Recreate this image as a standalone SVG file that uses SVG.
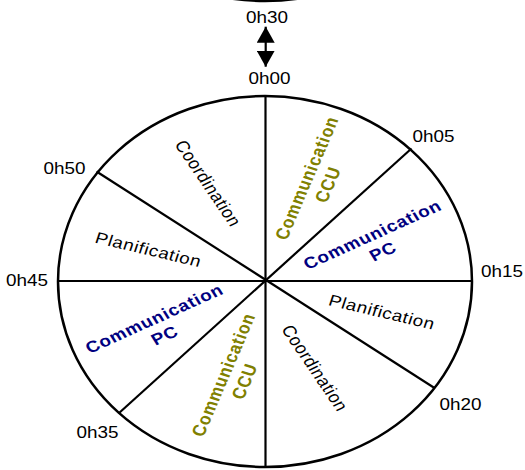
<svg xmlns="http://www.w3.org/2000/svg" width="525" height="470" viewBox="0 0 525 470">
  <style>
    .outline { fill: #ffffff; stroke: #000000; stroke-width: 2.5; }
    .divider { stroke: #000000; stroke-width: 2.2; fill: none; }
    .tick { font-family: "Liberation Sans", Arial, sans-serif; font-size: 16px; fill: #000000; }
    .task { font-family: "Liberation Sans", Arial, sans-serif; font-size: 16px; fill: #000000; text-anchor: middle; letter-spacing: 0.5px; }
    .comm { font-family: "Liberation Sans", Arial, sans-serif; font-size: 16px; font-weight: bold; text-anchor: middle; letter-spacing: 0.7px; }
    .ccu { fill: #808000; }
    .pc { fill: #000080; }
  </style>
  <defs>
    <marker id="head" viewBox="0 0 16 18" refX="16" refY="9" markerWidth="16" markerHeight="18" markerUnits="userSpaceOnUse" orient="auto-start-reverse">
      <path d="M0,0 L16,9 L0,18 z" fill="#000000"/>
    </marker>
  </defs>

  <!-- previous cycle, cut off at the top edge -->
  <ellipse class="outline" cx="265" cy="-184.5" rx="207" ry="185.5"/>

  <!-- cycle wheel -->
  <g id="wheel">
    <ellipse class="outline" cx="265" cy="281.5" rx="207" ry="185.5"/>
  </g>

  <!-- sector dividers and the wrap-around arrow -->
  <g id="connectors">
    <line class="divider" x1="265.5" y1="96" x2="265.5" y2="467"/>
    <line class="divider" x1="58" y1="281" x2="472" y2="281"/>
    <line class="divider" x1="411.5" y1="148.5" x2="118.5" y2="413.5"/>
    <line class="divider" x1="96.5" y1="171.5" x2="434.5" y2="388"/>
    <line class="divider" x1="265.7" y1="26.7" x2="265.7" y2="66.7" stroke-width="2" marker-start="url(#head)" marker-end="url(#head)"/>
  </g>

  <!-- time marks -->
  <g id="ticks">
    <text class="tick" transform="translate(246,23.3) scale(1.18,1)">0h30</text>
    <text class="tick" transform="translate(248.5,84) scale(1.18,1)">0h00</text>
    <text class="tick" transform="translate(412.5,141.5) scale(1.18,1)">0h05</text>
    <text class="tick" transform="translate(481,276.7) scale(1.18,1)">0h15</text>
    <text class="tick" transform="translate(439.5,410) scale(1.18,1)">0h20</text>
    <text class="tick" transform="translate(76.5,437.7) scale(1.18,1)">0h35</text>
    <text class="tick" transform="translate(6,286) scale(1.18,1)">0h45</text>
    <text class="tick" transform="translate(43.5,174.3) scale(1.18,1)">0h50</text>
  </g>

  <!-- sectors -->
  <g id="comm-ccu-1" transform="translate(317.3,181.3) scale(1.18,1) rotate(-70)">
    <text class="comm ccu" x="0" y="-4">Communication</text>
    <text class="comm ccu" x="0" y="15">CCU</text>
  </g>
  <g id="comm-pc-1" transform="translate(377.7,243) scale(1.18,1) rotate(-28)">
    <text class="comm pc" x="0" y="-4">Communication</text>
    <text class="comm pc" x="0" y="15">PC</text>
  </g>
  <g id="planif-1" transform="translate(382,312) scale(1.18,1) rotate(15.5)">
    <text class="task" x="0" y="5.6">Planification</text>
  </g>
  <g id="coord-1" transform="translate(315,368) scale(1.18,1) rotate(60)">
    <text class="task" x="0" y="5.6">Coordination</text>
  </g>
  <g id="comm-ccu-2" transform="translate(234,378) scale(1.18,1) rotate(-70)">
    <text class="comm ccu" x="0" y="-4">Communication</text>
    <text class="comm ccu" x="0" y="15">CCU</text>
  </g>
  <g id="comm-pc-2" transform="translate(159.5,327) scale(1.18,1) rotate(-28)">
    <text class="comm pc" x="0" y="-4">Communication</text>
    <text class="comm pc" x="0" y="15">PC</text>
  </g>
  <g id="planif-2" transform="translate(148.5,249.5) scale(1.18,1) rotate(15.5)">
    <text class="task" x="0" y="5.6">Planification</text>
  </g>
  <g id="coord-2" transform="translate(208.3,183.3) scale(1.18,1) rotate(60)">
    <text class="task" x="0" y="5.6">Coordination</text>
  </g>
</svg>
